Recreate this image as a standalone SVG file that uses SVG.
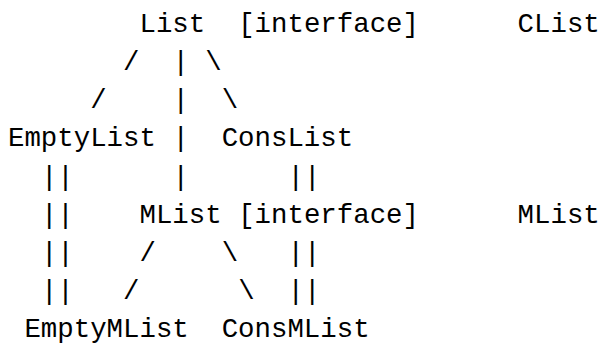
<svg xmlns="http://www.w3.org/2000/svg" width="601" height="345" viewBox="0 0 601 345">
<style>
text{font-family:"Liberation Mono","DejaVu Sans Mono",monospace;font-size:27.4px;fill:#000;white-space:pre}
</style>
<rect width="601" height="345" fill="#fff"/>
<g id="connectors">
<text x="123.1" y="70">/</text><text x="172.4" y="70">|</text><text x="205.3" y="70">\</text>
<text x="90.2" y="108">/</text><text x="172.4" y="108">|</text><text x="221.7" y="108">\</text>
<text x="172.4" y="146">|</text>
<text x="40.9" y="185">||</text><text x="172.4" y="185">|</text><text x="287.5" y="185">||</text>
<text x="40.9" y="223">||</text>
<text x="40.9" y="261">||</text><text x="139.5" y="261">/</text><text x="221.7" y="261">\</text><text x="287.5" y="261">||</text>
<text x="40.9" y="299">||</text><text x="123.1" y="299">/</text><text x="238.2" y="299">\</text><text x="287.5" y="299">||</text>
</g>
<g id="List"><text x="139.5" y="32">List</text><text x="238.2" y="32">[interface]</text></g>
<g id="CList"><text x="517.6" y="32">CList</text></g>
<g id="EmptyList"><text x="8" y="146">EmptyList</text></g>
<g id="ConsList"><text x="221.7" y="146">ConsList</text></g>
<g id="MList"><text x="139.5" y="223">MList</text><text x="238.2" y="223">[interface]</text></g>
<g id="MListRight"><text x="517.6" y="223">MList</text></g>
<g id="EmptyMList"><text x="24.4" y="337">EmptyMList</text></g>
<g id="ConsMList"><text x="221.7" y="337">ConsMList</text></g>
</svg>
